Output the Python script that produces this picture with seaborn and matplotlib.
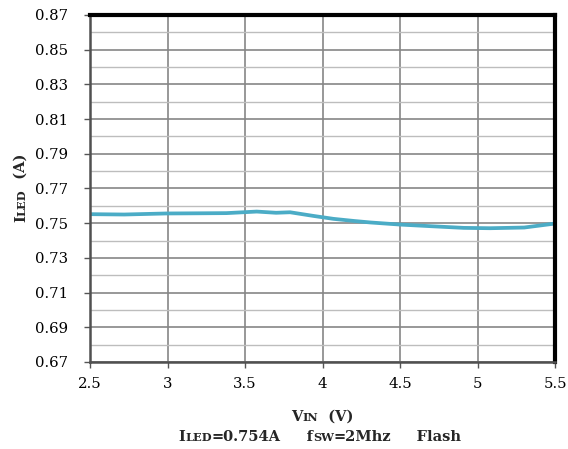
import numpy as np
import pandas as pd
import matplotlib
matplotlib.use("Agg")
import matplotlib.pyplot as plt
import seaborn as sns
from matplotlib.ticker import FixedLocator

# values
vin = [2.5, 2.72, 2.99, 3.2, 3.38, 3.575, 3.70, 3.79, 3.94, 4.07, 4.20, 4.31, 4.50, 4.69, 4.91, 5.08, 5.30, 5.5]
iled = [0.7552, 0.7550, 0.7556, 0.7557, 0.7558, 0.7567, 0.7560, 0.7563, 0.7542, 0.7525,
        0.7513, 0.7504, 0.7492, 0.7483, 0.7473, 0.7471, 0.7475, 0.7498]
xticks = [2.5, 3, 3.5, 4, 4.5, 5, 5.5]
yticks = [0.67, 0.69, 0.71, 0.73, 0.75, 0.77, 0.79, 0.81, 0.83, 0.85, 0.87]

sns.set_theme(style="white")
plt.rcParams["font.family"] = ["DejaVu Serif"]

fig = plt.figure(figsize=(5.68, 4.49), dpi=100)
ax = fig.add_axes([0.1585, 0.1938, 0.9775 - 0.1585, 0.9666 - 0.1938])

df = pd.DataFrame({"vin": vin, "iled": iled})
sns.lineplot(data=df, x="vin", y="iled", color="#4BACC6", linewidth=2.7, ax=ax)

ax.set_xlim(2.5, 5.5)
ax.set_ylim(0.67, 0.87)
ax.xaxis.set_major_locator(FixedLocator(xticks))
ax.set_xticklabels(["2.5", "3", "3.5", "4", "4.5", "5", "5.5"])
ax.yaxis.set_major_locator(FixedLocator(yticks))
ax.set_yticklabels([f"{v:.2f}" for v in yticks])
ax.yaxis.set_minor_locator(FixedLocator([0.68 + 0.02 * i for i in range(10)]))

ax.grid(True, which="major", axis="both", color="#868686", linewidth=1.2)
ax.grid(True, which="minor", axis="y", color="#bdbdbd", linewidth=1.0)
ax.set_axisbelow(True)

ax.tick_params(axis="both", which="major", direction="out", length=4, width=1,
               color="#555555", labelsize=10.7, labelcolor="black",
               left=True, bottom=True)
ax.tick_params(axis="x", pad=7)
ax.tick_params(axis="y", pad=12)
ax.tick_params(axis="y", which="minor", length=0)

for side in ["left", "bottom"]:
    ax.spines[side].set_color("#505050")
    ax.spines[side].set_linewidth(1.8)
for side in ["top", "right"]:
    ax.spines[side].set_color("black")
    ax.spines[side].set_linewidth(3)

ax.set_xlabel("")
ax.set_ylabel("")


def rich_text(pieces, x, y, rotation=0):
    r = fig.canvas.get_renderer()
    W, H = fig.bbox.width, fig.bbox.height
    texts, widths = [], []
    for s, size in pieces:
        t = fig.text(0, 0, s, fontsize=size, fontweight="bold", rotation=rotation,
                     ha="left", va="baseline", rotation_mode="anchor")
        bb = t.get_window_extent(r)
        widths.append(bb.width if rotation == 0 else bb.height)
        texts.append(t)
    pos = -sum(widths) / 2
    for t, w in zip(texts, widths):
        if rotation == 0:
            t.set_position((x + pos / W, y))
        else:
            t.set_position((x, y + pos / H))
        pos += w


big, small = 10.5, 8.2
rich_text([("V", big), ("IN", small), ("  (V)", big)], 322 / 568, (449 - 421) / 449)
rich_text([("I", big), ("LED", small), ("=0.754A", big), ("     f", big), ("SW", small),
           ("=2Mhz", big), ("     Flash", big)], 320 / 568, (449 - 441) / 449)
rich_text([("I", big), ("LED", small), ("  (A)", big)], 25 / 568, (449 - 188) / 449, rotation=90)

fig.savefig("out.png", dpi=100)
